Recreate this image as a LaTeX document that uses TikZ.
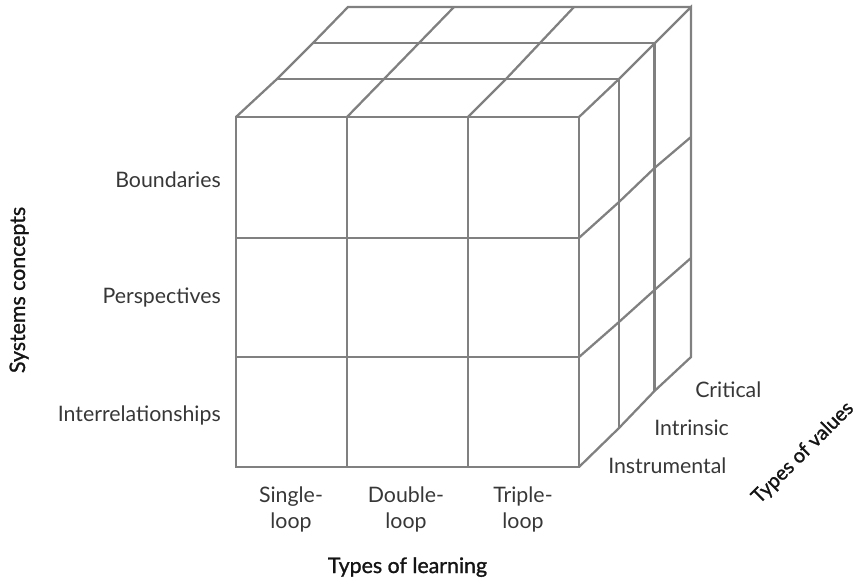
\documentclass[tikz,border=0pt]{standalone}
\usepackage{fontspec}
\setmainfont{Lato}
\newfontfamily\titlefont{Lato}[FakeBold=1.2]
\definecolor{cubegray}{RGB}{128,128,128}
\definecolor{labelcol}{RGB}{55,55,55}
\definecolor{titlecol}{RGB}{20,20,20}
\begin{document}
\begin{tikzpicture}[x=0.75pt,y=-0.75pt,
  edge/.style={draw=cubegray,line width=1.7pt},
  lbl/.style={font=\fontsize{16}{19.5}\selectfont,text=labelcol,inner sep=0pt},
  ttl/.style={font=\titlefont\fontsize{16}{20}\selectfont,text=titlecol,inner sep=0pt}]
\useasboundingbox (0,0) rectangle (858,585);
% front face
\draw[edge] (236,117) rectangle (579,467);
\draw[edge] (347,117) -- (347,467);
\draw[edge] (468,117) -- (468,467);
\draw[edge] (236,238) -- (579,238);
\draw[edge] (236,357) -- (579,357);
% top face
\draw[edge] (236,117) -- (277,79) -- (313,43) -- (348,7) -- (691,7);
\draw[edge] (277,79) -- (619,79);
\draw[edge] (313,43) -- (655,43);
\draw[edge] (347,117) -- (384,79) -- (419,43) -- (454,7);
\draw[edge] (468,117) -- (506,79) -- (540,43) -- (574,7);
% right face
\draw[edge] (579,117) -- (619,79) -- (655,43) -- (691,7) -- (691,357) -- (654.5,391) -- (619,428) -- (579,467);
\draw[edge] (619,79) -- (619,428);
\draw[edge] (654.5,43) -- (654.5,391);
\draw[edge] (579,238) -- (619,202) -- (654.5,168) -- (691,137);
\draw[edge] (579,357) -- (619,322) -- (654.5,290) -- (691,258);
% row labels
\node[lbl,anchor=base east] (bnd) at (221,187) {Boundaries};
\node[lbl,anchor=base east] (per) at (221,303) {Perspectives};
\node[lbl,anchor=base east] (irl) at (221,421) {Interrelationships};
\node[ttl,rotate=90,anchor=base] (sys) at (25,290) {Systems concepts};
% column labels
\node[lbl,align=center] (sgl) at (291,509) {Single-\\loop};
\node[lbl,align=center] (dbl) at (406,509) {Double-\\loop};
\node[lbl,align=center] (trp) at (523,509) {Triple-\\loop};
\node[ttl,anchor=base] (lrn) at (407.5,573) {Types of learning};
% depth labels
\node[lbl,anchor=base west] (crt) at (695,397) {Critical};
\node[lbl,anchor=base west] (ints) at (654,435) {Intrinsic};
\node[lbl,anchor=base west] (inst) at (608,473) {Instrumental};
\node[ttl,rotate=45,font=\titlefont\fontsize{15}{18}\selectfont] (val) at (803,453) {Types of values};
\end{tikzpicture}
\end{document}
